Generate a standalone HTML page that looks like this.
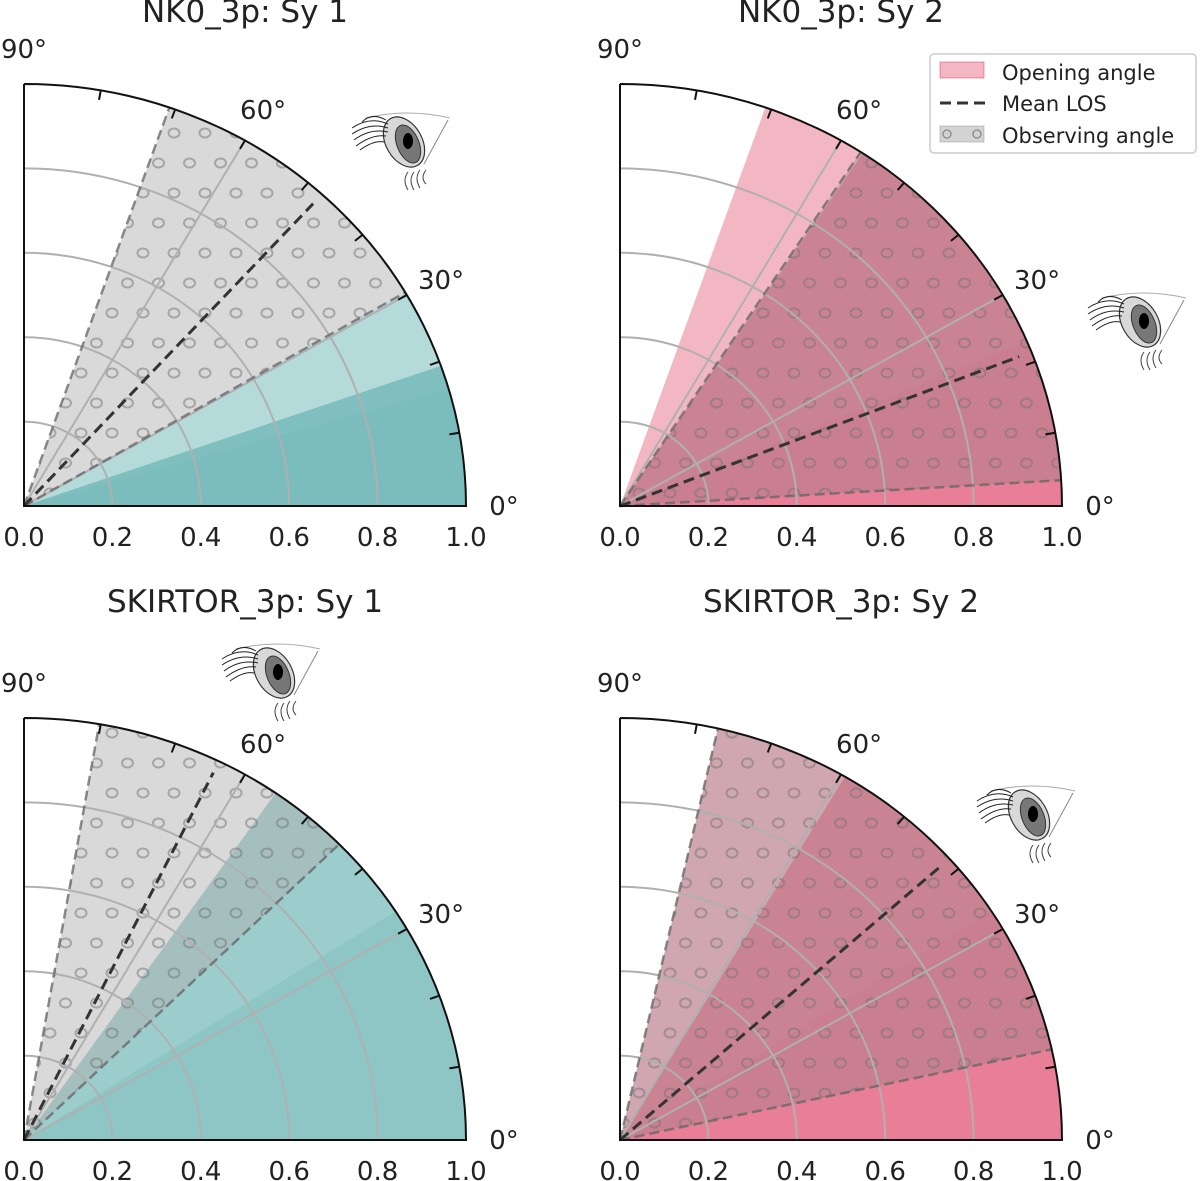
<!DOCTYPE html>
<html><head><meta charset="utf-8"><style>
html,body{margin:0;padding:0;background:#fff;}
svg{display:block;font-family:"DejaVu Sans","Liberation Sans",sans-serif;}
</style></head><body>
<svg id="fig" width="1200" height="1181" viewBox="0 0 1200 1181">
<defs>
<pattern id="hatch" patternUnits="userSpaceOnUse" width="31" height="60" x="11" y="5">
<ellipse cx="8" cy="8" rx="5.5" ry="4.5" fill="none" stroke="rgba(115,115,115,0.5)" stroke-width="2"/>
<ellipse cx="23.5" cy="38" rx="5.5" ry="4.5" fill="none" stroke="rgba(115,115,115,0.5)" stroke-width="2"/>
</pattern>
<g id="eye">
<path d="M-36,-24 Q5,-34 48,-24" fill="none" stroke="#aaa" stroke-width="1"/>
<path d="M46,-22 L22,22" fill="none" stroke="#888" stroke-width="1"/>
<ellipse cx="2" cy="0" rx="18" ry="27" transform="rotate(-30 2 0)" fill="#d8d8d8" stroke="#333" stroke-width="1.2"/>
<ellipse cx="6" cy="2" rx="11" ry="20" transform="rotate(-22 6 2)" fill="#777" stroke="#333" stroke-width="1"/>
<ellipse cx="6" cy="-1" rx="5" ry="8" fill="#000"/>
<path d="M-50,-14 Q-32,-26 -14,-18 M-50,-8 Q-32,-20 -14,-14 M-48,-2 Q-32,-14 -14,-10 M-46,4 Q-30,-8 -16,-6 M-42,8 Q-28,-2 -18,0 M-40,-20 Q-30,-30 -16,-22" fill="none" stroke="#222" stroke-width="1"/>
<path d="M6,30 Q0,38 6,48 M12,30 Q6,38 12,48 M18,28 Q12,36 18,46 M24,28 Q18,36 24,42" fill="none" stroke="#444" stroke-width="1"/>
</g>
</defs>
</svg>
<script>
// ---- data ----
const panelTitles = ["NK0_3p: Sy 1", "NK0_3p: Sy 2", "SKIRTOR_3p: Sy 1", "SKIRTOR_3p: Sy 2"];
const obsLow = [30.4, 3.5, 44.5, 12.4];
const obsHigh = [70.8, 57, 80.2, 77.2];
const meanLOS = [47.6, 21.4, 63.8, 41.8];
const openAngles = [[30.4, 19.4, 16.1], [70.8, 56.7, 23], [55.3, 44.6, 32.8], [77.2, 59.4, 32.9]];
const openAlphas = [[0.29, 0.29, 0.04], [0.3, 0.3, 0.04], [0.29, 0.14, 0.08], [0.3, 0.3, 0.04]];
const openColor = ["0,128,128", "215,15,58", "0,128,128", "215,15,58"];
const rTicks = [0.0, 0.2, 0.4, 0.6, 0.8, 1.0];
const rTickLabels = ["0.0", "0.2", "0.4", "0.6", "0.8", "1.0"];
const angleLabels = [0, 30, 60, 90];
const gridCircles = [0.2, 0.4, 0.6, 0.8];
const gridAngles = [30, 60];
const arcTicks = [10, 20, 30, 40, 50, 60, 70, 80];

// ---- layout ----
const origins = [[24, 506], [620, 506], [24, 1140], [620, 1140]];
const RX = 442, RY = 422;
const titleY = [22, 22, 612, 612];
const eyePos = [[402, 142], [1138, 322], [272, 673], [1027, 815]];
const NS = "http://www.w3.org/2000/svg";
const svg = document.getElementById("fig");

function mk(tag, attrs, parent) {
  const e = document.createElementNS(NS, tag);
  for (const k in attrs) e.setAttribute(k, attrs[k]);
  (parent || svg).appendChild(e);
  return e;
}
function pt(o, r, deg) {
  const a = deg * Math.PI / 180;
  return [o[0] + r * RX * Math.cos(a), o[1] - r * RY * Math.sin(a)];
}
function sector(o, a0, a1) {
  const p0 = pt(o, 1, a0), p1 = pt(o, 1, a1);
  return `M${o[0]},${o[1]} L${p0[0]},${p0[1]} A${RX},${RY} 0 0 0 ${p1[0]},${p1[1]} Z`;
}

panelTitles.forEach((t, i) => {
  const o = origins[i];
  const g = mk("g", {});
  
  

  openAngles[i].forEach((ang, j) => {
    const p = mk("path", { d: sector(o, 0, ang), fill: `rgba(${openColor[i]},${openAlphas[i][j]})` }, g);
    
    
  });
  const obs = mk("path", { d: sector(o, obsLow[i], obsHigh[i]), fill: "rgba(128,128,128,0.3)" }, g);
  
  
  const hat = mk("path", { d: sector(o, obsLow[i], obsHigh[i]), fill: "url(#hatch)" }, g);
  
  

  gridCircles.forEach(r => {
    const p0 = pt(o, r, 0), p1 = pt(o, r, 90);
    const c = mk("path", { d: `M${p0[0]},${p0[1]} A${r * RX},${r * RY} 0 0 0 ${p1[0]},${p1[1]}`, fill: "none", stroke: "#b0b0b0", "stroke-width": 2 }, g);
    
    
  });
  gridAngles.forEach(a => {
    const p = pt(o, 1, a);
    const l = mk("line", { x1: o[0], y1: o[1], x2: p[0], y2: p[1], stroke: "#b0b0b0", "stroke-width": 2 }, g);
    
    
  });

  [obsLow[i], obsHigh[i]].forEach(a => {
    const p = pt(o, 1, a);
    const l = mk("line", { x1: o[0], y1: o[1], x2: p[0], y2: p[1], stroke: "rgba(100,100,100,0.75)", "stroke-width": 2.5, "stroke-dasharray": "10,5" }, g);
    
    
  });
  const pm = pt(o, 0.97, meanLOS[i]);
  const ml = mk("line", { x1: o[0], y1: o[1], x2: pm[0], y2: pm[1], stroke: "#333", "stroke-width": 3, "stroke-dasharray": "11,6" }, g);
  
  

  const top = pt(o, 1, 90), right = pt(o, 1, 0);
  const fr = mk("path", { d: `M${o[0]},${top[1]} L${o[0]},${o[1]} L${right[0]},${right[1]} A${RX},${RY} 0 0 0 ${top[0]},${top[1]}`, fill: "none", stroke: "#111", "stroke-width": 2 }, g);
  
  
  arcTicks.forEach(a => {
    const p0 = pt(o, 1, a), p1 = pt(o, 1 - 10 / RX, a);
    const tk = mk("line", { x1: p0[0], y1: p0[1], x2: p1[0], y2: p1[1], stroke: "#111", "stroke-width": 2 }, g);
    
    
  });

  rTicks.forEach((r, j) => {
    const tx = mk("text", { x: o[0] + r * RX, y: o[1] + 40, "font-size": 26, "text-anchor": "middle", fill: "#222" }, g);
    tx.textContent = rTickLabels[j];
    
    
  });
  angleLabels.forEach(a => {
    const p = pt(o, 1.1, a);
    let x = p[0] - 4, y = p[1] + 15;
    if (a === 90) { x = o[0]; y = o[1] - RY - 26; }
    if (a === 0) { x = o[0] + RX + 38; y = o[1] + 9; }
    const tx = mk("text", { x: x, y: y, "font-size": 26, "text-anchor": "middle", fill: "#222" }, g);
    tx.textContent = a + "°";
    
    
  });
  const tt = mk("text", { x: o[0] + 221, y: titleY[i], "font-size": 31, "text-anchor": "middle", fill: "#222" }, g);
  tt.textContent = t;
  
  
  const ey = mk("use", { href: "#eye", transform: `translate(${eyePos[i][0]},${eyePos[i][1]})` }, g);
  
  
});

const lg = mk("g", {});


mk("rect", { x: 930, y: 54, width: 266, height: 99, rx: 4, fill: "rgba(255,255,255,0.85)", stroke: "#ccc", "stroke-width": 1.5 }, lg);
const e1 = mk("rect", { x: 940, y: 62, width: 44, height: 16, fill: "rgba(215,15,58,0.3)", stroke: "rgba(215,15,58,0.4)" }, lg);


const e2 = mk("line", { x1: 940, y1: 103, x2: 986, y2: 103, stroke: "#333", "stroke-width": 3, "stroke-dasharray": "11,6" }, lg);


const e3 = mk("rect", { x: 940, y: 126, width: 44, height: 16, fill: "rgba(128,128,128,0.35)", stroke: "rgba(128,128,128,0.4)" }, lg);


mk("circle", { cx: 947, cy: 134, r: 4, fill: "none", stroke: "#888", "stroke-width": 1.3 }, lg);
mk("circle", { cx: 977, cy: 134, r: 4, fill: "none", stroke: "#888", "stroke-width": 1.3 }, lg);
[["Opening angle", 80], ["Mean LOS", 111], ["Observing angle", 143]].forEach(([s, y]) => {
  const tx = mk("text", { x: 1002, y: y, "font-size": 21, fill: "#222" }, lg);
  tx.textContent = s;
  
  
});
</script>
</body></html>
